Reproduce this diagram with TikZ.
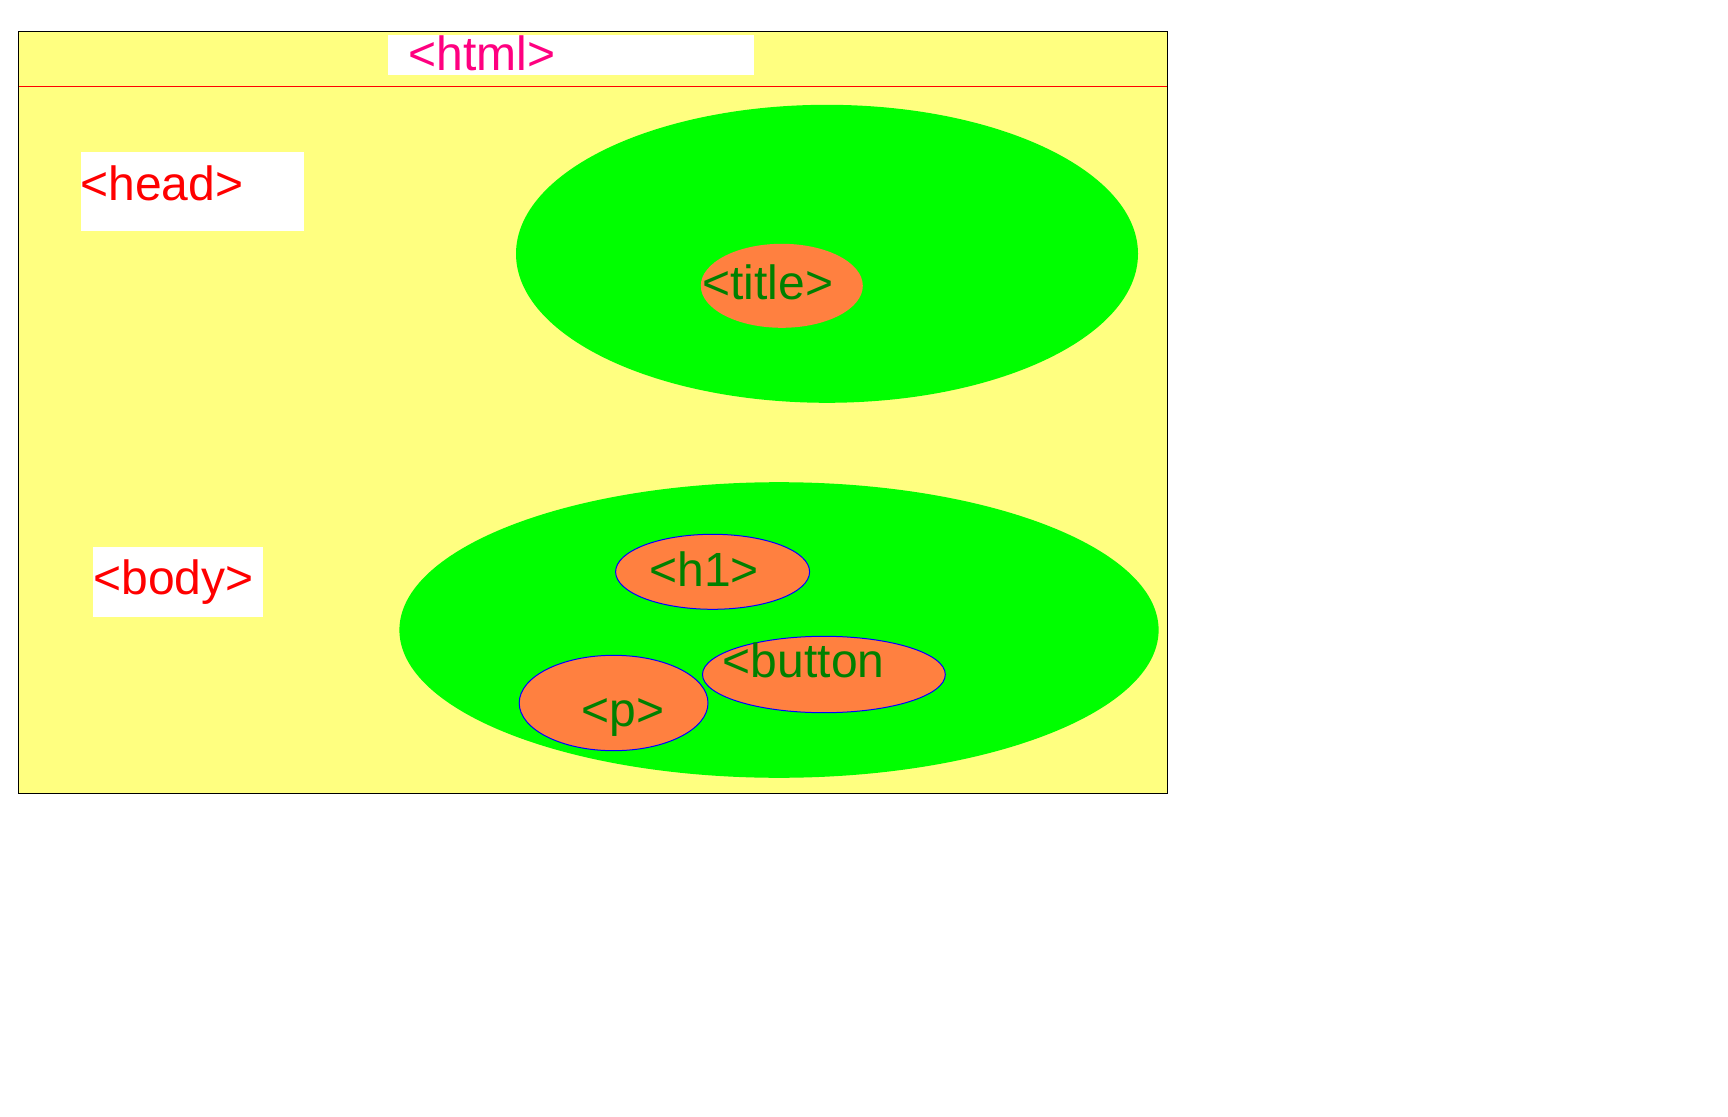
\documentclass[tikz,border=0pt]{standalone}
\usepackage{fontspec}
\setmainfont{Liberation Sans}
\usetikzlibrary{shapes.geometric}
\definecolor{pageyellow}{HTML}{FFFF80}
\definecolor{tagorange}{HTML}{FF8040}
\definecolor{tagpink}{HTML}{FF0080}
\definecolor{tagdkgreen}{HTML}{008000}
\definecolor{tagblue}{HTML}{0000FF}

\begin{document}
\begin{tikzpicture}[x=0.5pt,y=-0.5pt,
  tagtext/.style={inner sep=0pt,anchor=base west,font=\fontsize{24}{28}\selectfont},
  outertag/.style={tagtext,text=red},
  innertag/.style={tagtext,text=tagdkgreen},
  blob/.style={ellipse,fill=green,inner sep=0pt,outer sep=0pt},
  kid/.style={ellipse,fill=tagorange,draw=tagblue,line width=0.5pt,inner sep=0pt,outer sep=0pt}]

\useasboundingbox (0,0) rectangle (1728,1117);
\draw[black,fill=pageyellow,line width=0.5pt] (18,32) rectangle (1167,793);
\draw[red,line width=0.5pt] (19,86.3) -- (1167,86.3);

\fill[white] (388,35) rectangle (754,75);
\fill[white] (81,152) rectangle (304,231);
\fill[white] (93,547) rectangle (263,617);
\node[tagtext,text=tagpink] (html) at (408,70.7) {<html>};
\node[outertag] (head) at (80,201) {<head>};
\node[outertag] (body) at (93,594) {<body>};

\node[blob,minimum width=311pt,minimum height=149pt] (headblob) at (827,253.8) {};
\node[blob,minimum width=379.6pt,minimum height=147.8pt] (bodyblob) at (779,630) {};

\node[kid,draw=none,minimum width=81pt,minimum height=42pt] (title) at (781.8,285.8) {};
\node[kid,minimum width=97pt,minimum height=37.5pt] (h1) at (712.6,571.8) {};
\node[kid,minimum width=94.4pt,minimum height=47.7pt] (p) at (613.6,703) {};
\node[kid,minimum width=121.4pt,minimum height=38.2pt] (button) at (823.9,674.5) {};

\node[innertag] (titletext) at (702,300) {<title>};
\node[innertag] (h1text) at (649,586) {<h1>};
\node[innertag] (ptext) at (581,726.7) {<p>};
\node[innertag] (buttontext) at (722.5,677.3) {<button};
\end{tikzpicture}
\end{document}
